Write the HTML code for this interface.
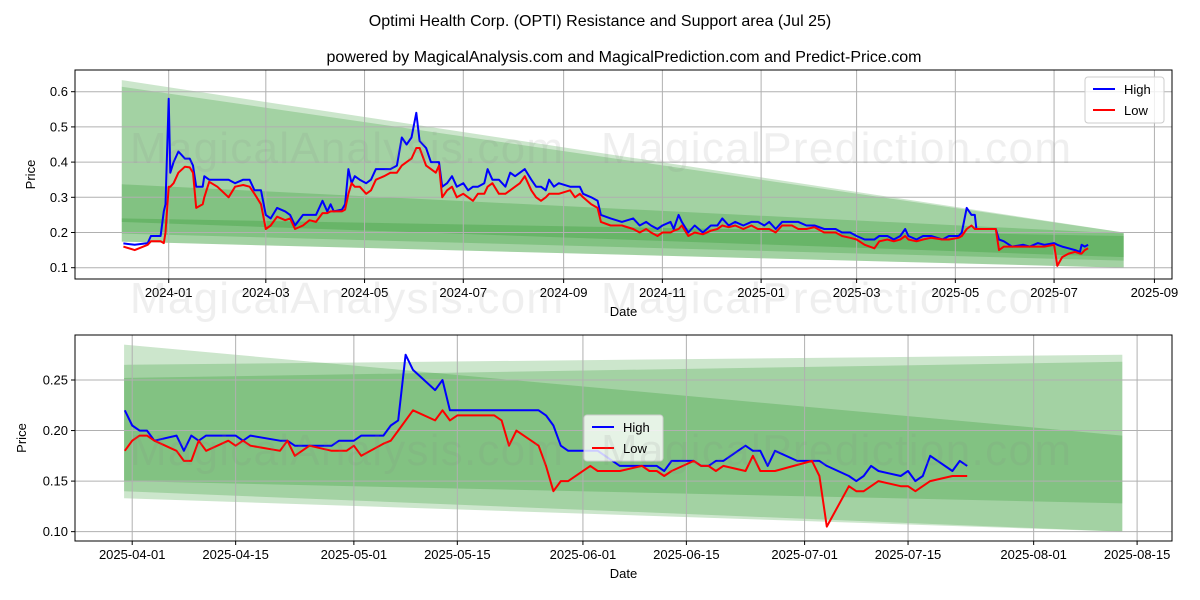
<!DOCTYPE html>
<html><head><meta charset="utf-8"><style>
html,body{margin:0;padding:0;background:#fff;}
svg{display:block;font-family:"Liberation Sans","DejaVu Sans",sans-serif;}
</style></head><body>
<svg id="fig" width="1200" height="600" viewBox="0 0 1200 600" xmlns="http://www.w3.org/2000/svg">
<rect width="1200" height="600" fill="#fff"/>
<text x="600" y="26" text-anchor="middle" font-size="16" fill="#000">Optimi Health Corp. (OPTI) Resistance and Support area (Jul 25)</text>
<text x="624" y="62" text-anchor="middle" font-size="16" fill="#000">powered by MagicalAnalysis.com and MagicalPrediction.com and Predict-Price.com</text>
<g id="top"></g>
<g id="bot"></g>
<g fill="#888" opacity="0.13" font-size="44">
<text x="130" y="163" textLength="433">MagicalAnalysis.com</text>
<text x="601" y="163" textLength="470">MagicalPrediction.com</text>
<text x="130" y="313" textLength="433">MagicalAnalysis.com</text>
<text x="601" y="313" textLength="470">MagicalPrediction.com</text>
<text x="130" y="465" textLength="433">MagicalAnalysis.com</text>
<text x="601" y="465" textLength="470">MagicalPrediction.com</text>
</g>
</svg>
<script>
// ---- TOP CHART DATA (days since 2024-01-01) ----
const topDays = [-28,-21,-13,-11,-5,-3,-2,0,1,3,6,10,13,15,17,21,22,25,30,37,41,46,50,53,57,60,63,67,72,75,78,83,87,91,95,98,100,102,107,109,111,113,115,118,122,125,128,133,137,141,144,147,150,153,155,159,162,165,167,169,172,175,178,182,185,188,191,195,197,200,204,208,211,214,217,220,224,227,230,233,235,238,241,248,251,254,256,261,265,267,273,280,287,291,295,298,302,305,310,312,315,317,321,325,330,335,339,342,346,350,355,360,364,368,371,375,379,385,389,394,399,405,412,416,421,425,430,436,439,444,448,452,455,457,462,466,471,478,482,488,490,493,496,498,499,511,513,516,521,528,532,537,541,547,549,552,556,560,563,564,566,568];
const topHigh = [.169,.165,.17,.19,.19,.26,.28,.58,.37,.40,.43,.41,.41,.39,.33,.33,.36,.35,.35,.35,.34,.35,.35,.32,.32,.25,.24,.27,.26,.25,.22,.25,.25,.25,.29,.26,.28,.26,.265,.28,.38,.34,.36,.35,.34,.35,.38,.38,.38,.39,.47,.45,.47,.54,.46,.44,.40,.40,.40,.33,.34,.36,.33,.34,.32,.33,.33,.34,.38,.35,.35,.33,.37,.36,.37,.38,.35,.33,.33,.32,.35,.33,.34,.33,.33,.33,.31,.30,.29,.25,.24,.23,.24,.22,.23,.22,.21,.22,.23,.21,.25,.23,.20,.22,.20,.22,.22,.24,.22,.23,.22,.23,.23,.22,.23,.21,.23,.23,.23,.22,.22,.21,.21,.20,.20,.19,.18,.18,.19,.19,.18,.19,.21,.19,.18,.19,.19,.18,.19,.19,.20,.27,.25,.25,.21,.21,.18,.175,.16,.165,.16,.17,.165,.17,.165,.16,.155,.15,.145,.165,.16,.165];
const topLow = [.16,.15,.165,.175,.175,.17,.20,.33,.33,.34,.37,.387,.385,.37,.27,.28,.30,.344,.33,.30,.33,.335,.33,.31,.28,.21,.22,.245,.235,.24,.21,.22,.235,.23,.255,.255,.26,.26,.26,.265,.31,.34,.33,.33,.31,.32,.35,.36,.37,.37,.39,.40,.41,.44,.44,.39,.38,.37,.39,.30,.32,.33,.30,.31,.30,.29,.31,.31,.33,.34,.31,.31,.32,.33,.34,.36,.32,.30,.29,.30,.31,.31,.31,.32,.30,.31,.30,.28,.27,.23,.22,.22,.21,.20,.21,.20,.19,.20,.20,.205,.21,.22,.19,.20,.195,.205,.21,.22,.215,.22,.21,.22,.21,.21,.21,.20,.22,.22,.21,.21,.215,.20,.20,.19,.185,.18,.165,.155,.175,.18,.175,.18,.19,.18,.175,.18,.185,.18,.18,.185,.19,.21,.22,.21,.21,.21,.15,.16,.16,.16,.16,.16,.16,.165,.105,.13,.14,.145,.14,.14,.15,.155];
const topBandStart = -29, topBandEnd = 590;
const topBandTop0 = [.633,.614,.337,.24];
const topBandTop1 = [.20,.20,.197,.19];
const topBandBot0 = [.174,.197,.23,.174];
const topBandBot1 = [.10,.12,.13,.10];
const topYTicks = [0.1,0.2,0.3,0.4,0.5,0.6];
const topXTickDays = [0,60,121,182,244,305,366,425,486,547,609];
const topXTickLabels = ["2024-01","2024-03","2024-05","2024-07","2024-09","2024-11","2025-01","2025-03","2025-05","2025-07","2025-09"];

// ---- BOTTOM CHART DATA (days since 2025-04-01) ----
const botHighDays = [-1,0,1,2,3,6,7,8,9,10,14,15,16,20,21,22,27,28,30,31,34,35,36,37,38,41,42,43,55,56,57,58,59,63,65,66,71,72,73,76,77,78,79,80,83,84,85,86,87,90,93,94,97,98,99,100,101,104,105,106,107,108,111,112,113];
const botHigh = [.22,.205,.20,.20,.19,.195,.18,.195,.19,.195,.195,.19,.195,.19,.19,.185,.185,.19,.19,.195,.195,.205,.21,.275,.26,.24,.25,.22,.22,.215,.205,.185,.18,.18,.17,.165,.165,.16,.17,.17,.165,.165,.17,.17,.185,.18,.18,.165,.18,.17,.17,.165,.155,.15,.155,.165,.16,.155,.16,.15,.155,.175,.16,.17,.165];
const botLowDays = [-1,0,1,2,3,6,7,8,9,10,13,14,15,16,20,21,22,24,27,29,30,31,34,35,36,38,41,42,43,44,49,50,51,52,55,56,57,58,59,62,63,66,69,70,71,72,73,76,77,78,79,80,83,84,85,87,92,93,94,97,98,99,101,104,105,106,108,111,113];
const botLow = [.18,.19,.195,.195,.19,.18,.17,.17,.19,.18,.19,.185,.19,.185,.18,.19,.175,.185,.18,.18,.185,.175,.187,.19,.20,.22,.21,.22,.21,.215,.215,.21,.185,.20,.185,.165,.14,.15,.15,.165,.16,.16,.165,.16,.16,.155,.16,.17,.165,.165,.16,.165,.16,.175,.16,.16,.17,.155,.105,.145,.14,.14,.15,.145,.145,.14,.15,.155,.155];
const botBandStart = -1.1, botBandEnd = 134;
const botBandTop0 = [.285,.265,.252];
const botBandTop1 = [.195,.275,.268];
const botBandBot0 = [.14,.133,.15];
const botBandBot1 = [.10,.10,.128];
const botYTicks = [0.10,0.15,0.20,0.25];
const botXTickDays = [0,14,30,44,61,75,91,105,122,136];
const botXTickLabels = ["2025-04-01","2025-04-15","2025-05-01","2025-05-15","2025-06-01","2025-06-15","2025-07-01","2025-07-15","2025-08-01","2025-08-15"];

const NS = "http://www.w3.org/2000/svg";
function mk(parent, tag, attrs, text) {
  const el = document.createElementNS(NS, tag);
  for (const k in attrs) el.setAttribute(k, attrs[k]);
  if (text !== undefined) el.textContent = text;
  parent.appendChild(el);
  return el;
}

function drawChart(g, cfg) {
  const {L,R,T,B,xs,ys} = cfg;
  // bands
  for (let i = 0; i < cfg.bt0.length; i++) {
    const p = [[xs(cfg.bs),ys(cfg.bt0[i])],[xs(cfg.be),ys(cfg.bt1[i])],[xs(cfg.be),ys(cfg.bb1[i])],[xs(cfg.bs),ys(cfg.bb0[i])]];
    const poly = mk(g, "polygon", {points: p.map(q=>q.join(",")).join(" "), fill: "#008000", "fill-opacity": "0.2"});
    
    
  }
  // grid + ticks
  cfg.yt.forEach(v => {
    const y = ys(v);
    const gl = mk(g, "line", {x1:L, x2:R, y1:y, y2:y, stroke:"#b0b0b0", "stroke-width":1});
    
    
    mk(g, "line", {x1:L-4, x2:L, y1:y, y2:y, stroke:"#000"});
    const t = mk(g, "text", {x:L-7, y:y+4.5, "text-anchor":"end", "font-size":13}, cfg.yfmt(v));
    
    
  });
  cfg.xt.forEach((d,i) => {
    const x = xs(d);
    const gl = mk(g, "line", {x1:x, x2:x, y1:T, y2:B, stroke:"#b0b0b0", "stroke-width":1});
    
    
    mk(g, "line", {x1:x, x2:x, y1:B, y2:B+4, stroke:"#000"});
    const t = mk(g, "text", {x:x, y:B+18, "text-anchor":"middle", "font-size":13}, cfg.xl[i]);
    
    
  });
  // series
  const hp = cfg.hd.map((d,i)=>xs(d).toFixed(1)+","+ys(cfg.h[i]).toFixed(1)).join(" ");
  const lp = cfg.ld.map((d,i)=>xs(d).toFixed(1)+","+ys(cfg.l[i]).toFixed(1)).join(" ");
  const hl = mk(g, "polyline", {points:hp, fill:"none", stroke:"#0000ff", "stroke-width":2, "stroke-linejoin":"round"});
  
  
  const ll = mk(g, "polyline", {points:lp, fill:"none", stroke:"#ff0000", "stroke-width":2, "stroke-linejoin":"round"});
  
  
  // frame
  const fr = mk(g, "rect", {x:L, y:T, width:R-L, height:B-T, fill:"none", stroke:"#000", "stroke-width":1});
  
  
  // axis titles
  const xt = mk(g, "text", {x:(L+R)/2, y:B+37, "text-anchor":"middle", "font-size":13}, "Date");
  
  
  const yt = mk(g, "text", {x:cfg.ytx, y:(T+B)/2, "text-anchor":"middle", "font-size":13, transform:`rotate(-90 ${cfg.ytx} ${(T+B)/2})`}, "Price");
  
  
  // legend
  const lg = mk(g, "g", {});
  
  
  const [lx, ly] = cfg.leg;
  mk(lg, "rect", {x:lx, y:ly, width:79, height:46, rx:3, fill:"#fff", "fill-opacity":0.8, stroke:"#ccc"});
  const e1 = mk(lg, "g", {});
  
  
  mk(e1, "line", {x1:lx+8, x2:lx+30, y1:ly+12, y2:ly+12, stroke:"#0000ff", "stroke-width":2});
  mk(e1, "text", {x:lx+39, y:ly+17, "font-size":13}, "High");
  const e2 = mk(lg, "g", {});
  
  
  mk(e2, "line", {x1:lx+8, x2:lx+30, y1:ly+33, y2:ly+33, stroke:"#ff0000", "stroke-width":2});
  mk(e2, "text", {x:lx+39, y:ly+38, "font-size":13}, "Low");
}

drawChart(document.getElementById("top"), {
  L:75, R:1172, T:70, B:279,
  xs: d => 168.7 + d*1.6186,
  ys: v => 267.7 - (v-0.1)*352,
  bs: topBandStart, be: topBandEnd,
  bt0: topBandTop0, bt1: topBandTop1, bb0: topBandBot0, bb1: topBandBot1,
  yt: topYTicks, yfmt: v => v.toFixed(1),
  xt: topXTickDays, xl: topXTickLabels,
  hd: topDays, h: topHigh, ld: topDays, l: topLow,
  ytx: 35, leg: [1085, 77]
});
drawChart(document.getElementById("bot"), {
  L:75, R:1172, T:335, B:541,
  xs: d => 132.2 + d*7.389,
  ys: v => 380 + (0.25-v)*1011,
  bs: botBandStart, be: botBandEnd,
  bt0: botBandTop0, bt1: botBandTop1, bb0: botBandBot0, bb1: botBandBot1,
  yt: botYTicks, yfmt: v => v.toFixed(2),
  xt: botXTickDays, xl: botXTickLabels,
  hd: botHighDays, h: botHigh, ld: botLowDays, l: botLow,
  ytx: 26, leg: [584, 415]
});
</script>
</body></html>
